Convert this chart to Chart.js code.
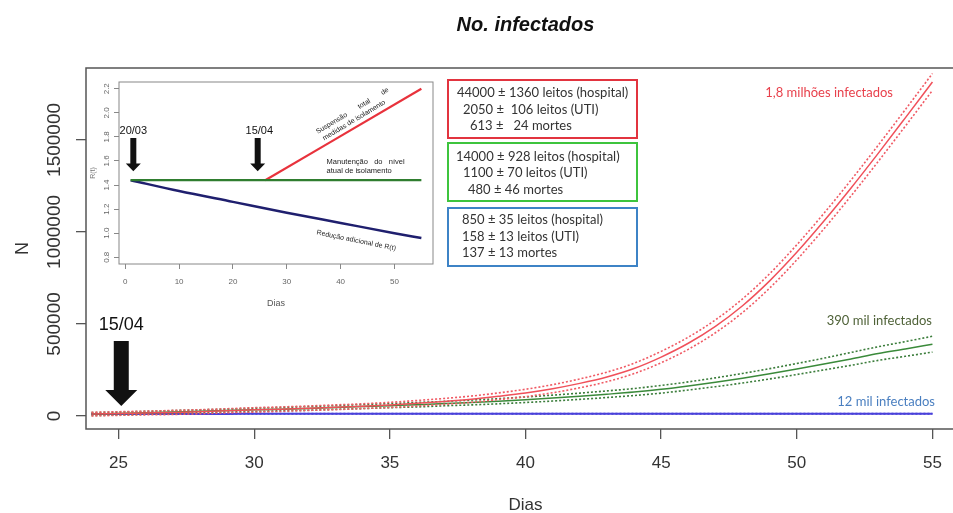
<!DOCTYPE html>
<html>
<head>
<meta charset="utf-8">
<script src="https://cdn.jsdelivr.net/npm/chart.js@4.4.1/dist/chart.umd.min.js"></script>
<style>
  html, body { margin: 0; padding: 0; overflow: hidden; background: #fff; }
  #wrap { position: relative; width: 953px; height: 513px; overflow: hidden; }
  #main { position: absolute; left: 0; top: 0; }
  #inset { position: absolute; left: 88px; top: 70px; }
</style>
</head>
<body>
<div id="wrap">
  <canvas id="main" width="980" height="513"></canvas>
  <canvas id="inset" width="350" height="245"></canvas>
</div>
<script>
// main chart data (values in thousands)
const days = [24,25,26,27,28,29,30,31,32,33,34,35,36,37,38,39,40,41,42,43,44,45,46,47,48,49,50,51,52,53,54,55];
const red   = [10,13,16,19,23,28,33,37,42,47,53,60,69,79,91,107,125,148,177,212,258,320,395,487,599,734,889,1059,1239,1427,1620,1815];
const redHi = [20,23,26,30,34,39,45,49,54,60,66,74,84,95,108,125,145,170,201,238,286,351,428,522,636,773,930,1101,1282,1471,1665,1861];
const redLo = [0,3,6,8,12,17,21,25,30,34,40,46,54,63,74,89,105,126,153,186,230,289,362,452,562,695,848,1017,1196,1383,1575,1769];
const green   = [10,13,17,21,25,29,33,37,41,46,51,56,61,67,73,80,88,97,107,118,130,145,163,183,205,229,255,282,310,339,364,390];
const greenHi = [18,21,25,29,33,37,42,46,51,56,62,67,73,79,86,94,103,113,124,136,149,166,185,207,231,257,285,314,345,376,404,433];
const greenLo = [2,5,9,13,17,21,24,28,31,36,40,45,49,55,60,66,73,81,90,100,111,124,141,159,179,201,225,250,275,302,324,347];
const blue   = [10,10,11,11,11,11,12,12,12,12,12,12,12,12,12,12,12,12,12,12,12,12,12,12,12,12,12,12,12,12,12,12];
const blueHi = [12,12,13,13,13,13,14,14,14,14,14,14,14,14,14,14,14,14,14,14,14,14,14,14,14,14,14,14,14,14,14,14];
const blueLo = [8,8,9,9,9,9,10,10,10,10,10,10,10,10,10,10,10,10,10,10,10,10,10,10,10,10,10,10,10,10,10,10];

const xTicks = [25, 30, 35, 40, 45, 50, 55];
const xTickLabels = ['25', '30', '35', '40', '45', '50', '55'];
const yTicks = [0, 500000, 1000000, 1500000];
const yTickLabels = ['0', '500000', '1000000', '1500000'];

const redBoxText = ['44000 \u00b1 1360 leitos (hospital)', '2050 \u00b1  106 leitos (UTI)', '613 \u00b1   24 mortes'];
const greenBoxText = ['14000 \u00b1 928 leitos (hospital)', '1100 \u00b1 70 leitos (UTI)', '480 \u00b1 46 mortes'];
const blueBoxText = ['850 \u00b1 35 leitos (hospital)', '158 \u00b1 13 leitos (UTI)', '137 \u00b1 13 mortes'];
const curveLabels = ['1,8 milh\u00f5es infectados', '390 mil infectados', '12 mil infectados'];

// inset R(t) data
const insetGreenDays = [1, 55];
const insetGreen = [1.44, 1.44];
const insetRedDays = [26, 55];
const insetRed = [1.44, 2.2];
const insetBlueDays = [1, 10, 20, 30, 40, 50, 55];
const insetBlue = [1.44, 1.35, 1.26, 1.17, 1.085, 1.0, 0.96];
const insetXTicks = [0, 10, 20, 30, 40, 50];
const insetXTickLabels = ['0', '10', '20', '30', '40', '50'];
const insetYTicks = [0.8, 1.0, 1.2, 1.4, 1.6, 1.8, 2.0, 2.2];
const insetYTickLabels = ['0.8', '1.0', '1.2', '1.4', '1.6', '1.8', '2.0', '2.2'];

Chart.defaults.font.family = "'Liberation Sans', Arial, sans-serif";

function pts(xs, ys, k) {
    return xs.map((x, i) => ({ x: x, y: ys[i] * k }));
}

function makeRotY(values, labels, gap, font, color) {
    return {
        id: 'rotY',
        afterDraw(chart) {
            const s = chart.scales.y;
            const ctx = chart.ctx;
            ctx.save();
            ctx.font = font;
            ctx.fillStyle = color;
            ctx.textAlign = 'center';
            ctx.textBaseline = 'middle';
            values.forEach((v, i) => {
                ctx.save();
                ctx.translate(s.right - gap, s.getPixelForValue(v));
                ctx.rotate(-Math.PI / 2);
                ctx.fillText(labels[i], 0, 0);
                ctx.restore();
            });
            ctx.restore();
        }
    };
}

function makeFrame(color, width) {
    return {
        id: 'frame',
        afterDatasetsDraw(chart) {
            const a = chart.chartArea;
            const ctx = chart.ctx;
            ctx.save();
            ctx.strokeStyle = color;
            ctx.lineWidth = width;
            ctx.strokeRect(a.left, a.top, a.right - a.left, a.bottom - a.top);
            ctx.restore();
        }
    };
}

function drawArrow(ctx, cx, top, neck, tip, shaftW, headW) {
    ctx.beginPath();
    ctx.moveTo(cx - shaftW / 2, top);
    ctx.lineTo(cx + shaftW / 2, top);
    ctx.lineTo(cx + shaftW / 2, neck);
    ctx.lineTo(cx + headW / 2, neck);
    ctx.lineTo(cx, tip);
    ctx.lineTo(cx - headW / 2, neck);
    ctx.lineTo(cx - shaftW / 2, neck);
    ctx.closePath();
    ctx.fill();
}

const mainNotes = {
    id: 'mainNotes',
    afterDraw(chart) {
        const ctx = chart.ctx;
        const xs = chart.scales.x, ys = chart.scales.y;
        ctx.save();

        // boxes with hospital numbers
        const boxes = [
            { text: redBoxText, color: '#e2343f', top: 80, lines: [[457, 93], [463, 110], [470, 126]] },
            { text: greenBoxText, color: '#3dc43d', top: 143, lines: [[456, 157], [463, 173], [468, 190]] },
            { text: blueBoxText, color: '#3d83c6', top: 208, lines: [[462, 220], [462, 237], [462, 253]] }
        ];
        boxes.forEach(b => {
            ctx.strokeStyle = b.color;
            ctx.lineWidth = 2;
            ctx.strokeRect(448, b.top, 189, 58);
            ctx.fillStyle = '#333';
            ctx.font = "13px Lato, 'Liberation Sans', sans-serif";
            ctx.textAlign = 'left';
            ctx.textBaseline = 'middle';
            b.text.forEach((t, i) => ctx.fillText(t, b.lines[i][0], b.lines[i][1]));
        });

        // curve labels
        ctx.font = "13px Lato, 'Liberation Sans', sans-serif";
        ctx.textAlign = 'right';
        ctx.fillStyle = '#e8414c';
        ctx.fillText(curveLabels[0], 893, 93);
        ctx.fillStyle = '#4f6238';
        ctx.fillText(curveLabels[1], 932, 321);
        ctx.fillStyle = '#4a7fc0';
        ctx.fillText(curveLabels[2], 935, 402);

        // 15/04 arrow
        const cx = xs.getPixelForValue(25.1);
        ctx.fillStyle = '#111';
        ctx.font = "18px 'Liberation Sans', Arial, sans-serif";
        ctx.textAlign = 'center';
        ctx.fillText('15/04', cx, ys.getPixelForValue(495000));
        drawArrow(ctx, cx, ys.getPixelForValue(407000), ys.getPixelForValue(141000),
            ys.getPixelForValue(54000), 15, 32);
        ctx.restore();
    }
};

const axisGrid = { display: true, drawOnChartArea: false, drawTicks: true, tickLength: 10, color: '#555', lineWidth: 1.3 };

new Chart(document.getElementById('main'), {
    type: 'line',
    data: {
        datasets: [
            { data: pts(days, redLo, 1000), borderColor: '#f05a64', borderWidth: 1.6, borderDash: [2, 2] },
            { data: pts(days, redHi, 1000), borderColor: '#f05a64', borderWidth: 1.6, borderDash: [2, 2] },
            { data: pts(days, red, 1000), borderColor: '#f0505a', borderWidth: 1.5 },
            { data: pts(days, greenLo, 1000), borderColor: '#3b7d3b', borderWidth: 1.6, borderDash: [2, 2] },
            { data: pts(days, greenHi, 1000), borderColor: '#3b7d3b', borderWidth: 1.6, borderDash: [2, 2] },
            { data: pts(days, green, 1000), borderColor: '#3a8a3a', borderWidth: 1.5 },
            { data: pts(days, blueLo, 1000), borderColor: '#4a44d8', borderWidth: 1.2, borderDash: [2, 2] },
            { data: pts(days, blueHi, 1000), borderColor: '#4a44d8', borderWidth: 1.2, borderDash: [2, 2] },
            { data: pts(days, blue, 1000), borderColor: '#4b40dc', borderWidth: 2 }
        ]
    },
    options: {
        responsive: false,
        animation: false,
        layout: { padding: { left: 0, right: 15, top: 0, bottom: 0 } },
        elements: { point: { radius: 0 }, line: { cubicInterpolationMode: 'monotone' } },
        plugins: {
            legend: { display: false },
            tooltip: { enabled: false },
            title: {
                display: true,
                text: 'No. infectados',
                fullSize: false,
                color: '#111',
                font: { size: 20, weight: 'bold', style: 'italic' },
                padding: { top: 13, bottom: 31 }
            }
        },
        scales: {
            x: {
                type: 'linear',
                min: 23.8,
                max: 56.2,
                afterBuildTicks: s => { s.ticks = xTicks.map(v => ({ value: v })); },
                afterFit: s => { s.height = 84; },
                grid: axisGrid,
                border: { display: false },
                ticks: {
                    autoSkip: false, maxRotation: 0, padding: 14, color: '#333',
                    font: { size: 17 },
                    callback: (v, i) => xTickLabels[i]
                },
                title: { display: true, text: 'Dias', color: '#333', font: { size: 17 }, padding: { top: 0, bottom: -3 } }
            },
            y: {
                min: -71000,
                max: 1891000,
                afterBuildTicks: s => { s.ticks = yTicks.map(v => ({ value: v })); },
                afterFit: s => { s.width = 86; },
                grid: axisGrid,
                border: { display: false },
                ticks: { display: false },
                title: { display: true, text: 'N', color: '#333', font: { size: 18 }, padding: { top: 12, bottom: 0 } }
            }
        }
    },
    plugins: [makeFrame('#555', 1.5), makeRotY(yTicks, yTickLabels, 31, "19px 'Liberation Sans', Arial, sans-serif", '#333'), mainNotes]
});

const insetNotes = {
    id: 'insetNotes',
    afterDraw(chart) {
        const ctx = chart.ctx;
        const xs = chart.scales.x, ys = chart.scales.y;
        ctx.save();
        ctx.fillStyle = '#111';
        ctx.textAlign = 'center';
        ctx.textBaseline = 'middle';
        ctx.font = "11px 'Liberation Sans', Arial, sans-serif";
        ctx.fillText('20/03', xs.getPixelForValue(1.5), ys.getPixelForValue(1.848));
        ctx.fillText('15/04', xs.getPixelForValue(24.9), ys.getPixelForValue(1.848));
        drawArrow(ctx, xs.getPixelForValue(1.5), ys.getPixelForValue(1.791), ys.getPixelForValue(1.578),
            ys.getPixelForValue(1.515), 6, 15);
        drawArrow(ctx, xs.getPixelForValue(24.6), ys.getPixelForValue(1.791), ys.getPixelForValue(1.578),
            ys.getPixelForValue(1.515), 6, 15);

        ctx.fillStyle = '#222';
        ctx.font = "7px 'Liberation Sans', Arial, sans-serif";
        const rot = (t, x, y, ang) => {
            ctx.save();
            ctx.translate(xs.getPixelForValue(x), ys.getPixelForValue(y));
            ctx.rotate(ang * Math.PI / 180);
            ctx.fillText(t, 0, 0);
            ctx.restore();
        };
        rot('Suspens\u00e3o       total       de', 42.2, 2.016, -31);
        rot('medidas de isolamento', 42.5, 1.938, -31);
        rot('Redu\u00e7\u00e3o adicional de R(t)', 42.9, 0.939, 11.5);
        ctx.textAlign = 'left';
        ctx.font = "7.5px 'Liberation Sans', Arial, sans-serif";
        ctx.fillText('Manuten\u00e7\u00e3o   do   n\u00edvel', xs.getPixelForValue(37.4), ys.getPixelForValue(1.594));
        ctx.fillText('atual de isolamento', xs.getPixelForValue(37.4), ys.getPixelForValue(1.513));
        ctx.restore();
    }
};

const insetGrid = { display: true, drawOnChartArea: false, drawTicks: true, tickLength: 5, color: '#888', lineWidth: 1 };

new Chart(document.getElementById('inset'), {
    type: 'line',
    data: {
        datasets: [
            { data: pts(insetGreenDays, insetGreen, 1), borderColor: '#2f7d2f', borderWidth: 2.2 },
            { data: pts(insetRedDays, insetRed, 1), borderColor: '#e8323c', borderWidth: 2.2 },
            { data: pts(insetBlueDays, insetBlue, 1), borderColor: '#1f1f6e', borderWidth: 2.5 }
        ]
    },
    options: {
        responsive: false,
        animation: false,
        layout: { padding: { left: 0, right: 5, top: 12, bottom: 0 } },
        elements: { point: { radius: 0 }, line: { cubicInterpolationMode: 'monotone' } },
        plugins: { legend: { display: false }, tooltip: { enabled: false } },
        scales: {
            x: {
                type: 'linear',
                min: -1.16,
                max: 57.16,
                afterBuildTicks: s => { s.ticks = insetXTicks.map(v => ({ value: v })); },
                afterFit: s => { s.height = 51; },
                grid: insetGrid,
                border: { display: false },
                ticks: {
                    autoSkip: false, maxRotation: 0, padding: 8, color: '#666',
                    font: { size: 8 },
                    callback: (v, i) => insetXTickLabels[i]
                },
                title: { display: true, text: 'Dias', color: '#555', font: { size: 9 }, padding: { top: 0, bottom: 6 } }
            },
            y: {
                min: 0.744,
                max: 2.256,
                afterBuildTicks: s => { s.ticks = insetYTicks.map(v => ({ value: v })); },
                afterFit: s => { s.width = 31; },
                grid: insetGrid,
                border: { display: false },
                ticks: { display: false },
                title: { display: true, text: 'R(t)', color: '#777', font: { size: 7 }, padding: { top: 1, bottom: 0 } }
            }
        }
    },
    plugins: [makeFrame('#888', 1), makeRotY(insetYTicks, insetYTickLabels, 12, "8px 'Liberation Sans', Arial, sans-serif", '#666'), insetNotes]
});
</script>
</body>
</html>
